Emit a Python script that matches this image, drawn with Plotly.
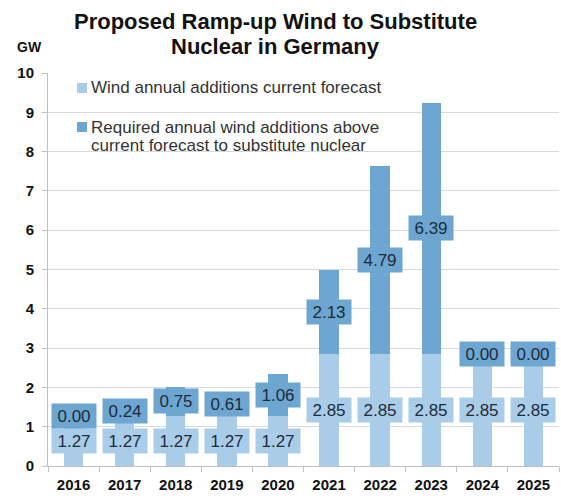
import plotly.graph_objects as go

years = ["2016", "2017", "2018", "2019", "2020", "2021", "2022", "2023", "2024", "2025"]
current_forecast = [1.27, 1.27, 1.27, 1.27, 1.27, 2.85, 2.85, 2.85, 2.85, 2.85]
required_extra = [0.00, 0.24, 0.75, 0.61, 1.06, 2.13, 4.79, 6.39, 0.00, 0.00]

title_lines = ["Proposed Ramp-up Wind to Substitute", "Nuclear in Germany"]
name_current = ["Wind annual additions current forecast"]
name_required = ["Required annual wind additions above", "current forecast to substitute nuclear"]

light = "#A9CCE8"
dark = "#6CA6D1"
txt = "#1F2B38"
FONT = "Liberation Sans, Arial"

fig = go.Figure()
fig.add_trace(go.Bar(x=years, y=current_forecast, name=name_current[0], marker_color=light,
                     marker_line_width=0, hoverinfo="skip", showlegend=False))
fig.add_trace(go.Bar(x=years, y=required_extra, name=" ".join(name_required), marker_color=dark,
                     marker_line_width=0, hoverinfo="skip", showlegend=False))

annots = []
for i, (c, r) in enumerate(zip(current_forecast, required_extra)):
    annots.append(dict(x=i, y=c / 2, text=f"{c:.2f}", showarrow=False, bgcolor=light,
                       width=40, height=20, borderpad=2,
                       font=dict(family=FONT, size=17, color=txt)))
    annots.append(dict(x=i, y=c + r / 2, text=f"{r:.2f}", showarrow=False, bgcolor=dark,
                       width=40, height=20, borderpad=2,
                       font=dict(family=FONT, size=17, color=txt)))

PLOT_TOP, PLOT_H = 73, 393


def py(pix):
    """pixel row (from top of figure) -> paper y"""
    return 1 + (PLOT_TOP - pix) / PLOT_H


# title (two lines)
for line, ypix in zip(title_lines, [22, 47]):
    annots.append(dict(xref="paper", yref="paper", x=0.445, y=py(ypix), xanchor="center",
                       yanchor="middle", text=f"<b>{line}</b>", showarrow=False,
                       font=dict(family=FONT, size=22, color="#111")))
# unit label
annots.append(dict(xref="paper", yref="paper", x=-0.065, y=py(47), xanchor="left", yanchor="middle",
                   text="<b>GW</b>", showarrow=False,
                   font=dict(family=FONT, size=14, color="#111")))

# manual legend
shapes = []
legend_rows = [(name_current, light, 88), (name_required, dark, 127)]
for lines, col, ypix in legend_rows:
    shapes.append(dict(type="rect", xref="paper", yref="paper",
                       x0=(77 - 48) / 511, x1=(87 - 48) / 511, y0=py(ypix + 5), y1=py(ypix - 5),
                       fillcolor=col, line_width=0))
    for k, line in enumerate(lines):
        annots.append(dict(xref="paper", yref="paper", x=(89 - 48) / 511, y=py(ypix + 18 * k),
                           xanchor="left", yanchor="middle", text=line, showarrow=False,
                           font=dict(family=FONT, size=17, color="#333")))

fig.update_layout(
    width=561, height=499,
    margin=dict(l=48, r=2, t=73, b=33),
    paper_bgcolor="white", plot_bgcolor="white",
    barmode="stack", bargap=0.62,
    showlegend=False,
    xaxis=dict(type="category", range=[-0.5, 9.5], showline=True, linecolor="#bfbfbf",
               ticks="outside", tickson="boundaries", tickcolor="#bfbfbf", ticklen=5,
               ticklabelstandoff=5,
               tickfont=dict(family=FONT, size=15, color="#111", weight="bold"),
               showgrid=False),
    yaxis=dict(range=[0, 10], dtick=1, showline=True, linecolor="#bfbfbf", ticks="outside",
               tickcolor="#bfbfbf", ticklen=5, gridcolor="#d9d9d9", zeroline=False,
               ticklabelstandoff=5,
               tickfont=dict(family=FONT, size=15, color="#111", weight="bold")),
    annotations=annots,
    shapes=shapes,
)

fig.write_html("out.html", config={"displayModeBar": False},
               post_script="document.body.style.margin='0';document.body.style.overflow='hidden';")
